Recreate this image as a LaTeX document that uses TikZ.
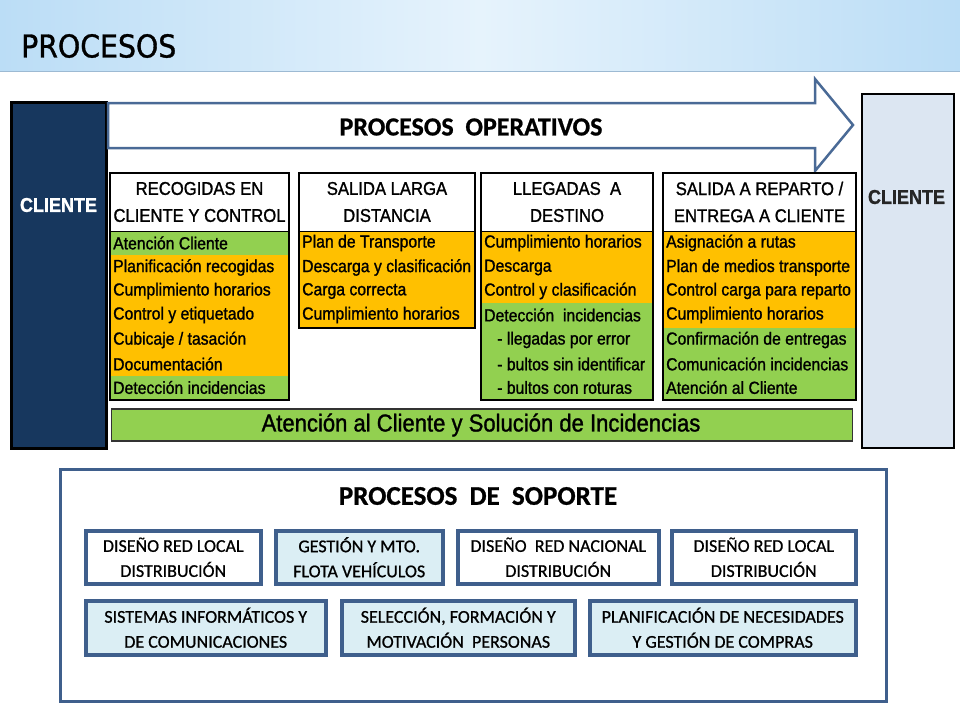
\documentclass[tikz,border=0pt]{standalone}
\usepackage{fontspec}
\setmainfont{Liberation Sans}
\newfontfamily\narrowf[FakeStretch=0.9,FakeBold=1.2]{Liberation Sans}
\newfontfamily\calibf[FakeBold=0.8]{Carlito}
\newfontfamily\titlef[FakeStretch=0.9,FakeBold=1]{DejaVu Sans}
\definecolor{navy}{HTML}{17375E}
\definecolor{orng}{HTML}{FFC000}
\definecolor{grn}{HTML}{92D050}
\definecolor{lightcli}{HTML}{DCE6F2}
\definecolor{arrowblue}{HTML}{4A6A96}
\definecolor{supblue}{HTML}{3F5F8C}
\definecolor{supfill}{HTML}{DBEEF4}
\definecolor{hdrA}{HTML}{BBDDF6}
\definecolor{hdrB}{HTML}{E6F3FC}
\definecolor{hdrline}{HTML}{9DBAD3}
\tikzset{
  item/.style={anchor=west, inner sep=0pt, font=\narrowf\fontsize{17.5}{18}\selectfont, text=black},
  colhead/.style={align=center, inner sep=0pt, font=\narrowf\fontsize{18.5}{27}\selectfont, text=black},
  colframe/.style={draw=black, line width=2pt},
  supbox/.style={draw=supblue, line width=3.5pt, align=center, inner sep=0pt,
    font=\calibf\fontsize{18}{25}\selectfont, anchor=north west},
}
\begin{document}
\begin{tikzpicture}[x=1pt,y=-1pt]
\useasboundingbox (0,0) rectangle (960,720);
\fill[white] (0,0) rectangle (960,720);
% header band
\shade[left color=hdrA, right color=hdrA, middle color=hdrB] (0,0) rectangle (960,71);
\draw[hdrline, line width=1pt] (0,71.5) -- (960,71.5);
\node[anchor=west, inner sep=0pt, font=\titlef\fontsize{31.5}{32}\selectfont] (title) at (21,46) {PROCESOS};

% left client
\node[draw=black, line width=2.5pt, fill=navy, minimum width=95pt, minimum height=346pt, anchor=north west, inner sep=0pt] (cliL) at (10,101) {};
\node[text=white, font=\narrowf\bfseries\fontsize{20}{20}\selectfont] (cliLt) at (58.5,205) {CLIENTE};

% right client
\node[draw=black, line width=2pt, fill=lightcli, minimum width=92pt, minimum height=354pt, anchor=north west, inner sep=0pt] (cliR) at (860.5,93) {};
\node[text=black!85, font=\narrowf\bfseries\fontsize{20}{20}\selectfont] (cliRt) at (906.5,197) {CLIENTE};

% arrow
\draw[arrowblue, line width=2.5pt, fill=white, line join=miter]
  (108,103) -- (815,103) -- (815,79) -- (853,125) -- (815,171) -- (815,148) -- (108,148) -- cycle;
\node[font=\calibf\bfseries\fontsize{26}{26}\selectfont] (opert) at (471,127) {PROCESOS\ \ OPERATIVOS};

% ---------- column 1 ----------
\fill[white] (110,173) rectangle (289,231);
\fill[grn] (110,231) rectangle (289,255);
\fill[orng] (110,255) rectangle (289,376);
\fill[grn] (110,376) rectangle (289,400);
\draw[black, line width=0.8pt] (110,231) -- (289,231);
\draw[colframe] (110,173) rectangle (289,400);
\node[colhead] (h1) at (199.5,202) {RECOGIDAS EN\\CLIENTE Y CONTROL};
\node[item] (c1a) at (113,243) {Atención Cliente};
\node[item] (c1b) at (113,267.5) {Planificación recogidas};
\node[item] (c1c) at (113,291) {Cumplimiento horarios};
\node[item] (c1d) at (113,315) {Control y etiquetado};
\node[item] (c1e) at (113,340) {Cubicaje / tasación};
\node[item] (c1f) at (113,364) {Documentación};
\node[item] (c1g) at (113,387.5) {Detección incidencias};

% ---------- column 2 ----------
\fill[white] (299,173) rectangle (475,231);
\fill[orng] (299,231) rectangle (475,328);
\draw[black, line width=0.8pt] (299,231) -- (475,231);
\draw[colframe] (299,173) rectangle (475,328);
\node[colhead] (h2) at (387,202) {SALIDA LARGA\\DISTANCIA};
\node[item] (c2a) at (302,243) {Plan de Transporte};
\node[item] (c2b) at (302,267.5) {Descarga y clasificación};
\node[item] (c2c) at (302,291) {Carga correcta};
\node[item] (c2d) at (302,315) {Cumplimiento horarios};

% ---------- column 3 ----------
\fill[white] (481,173) rectangle (653,231);
\fill[orng] (481,231) rectangle (653,303);
\fill[grn] (481,303) rectangle (653,400);
\draw[black, line width=0.8pt] (481,231) -- (653,231);
\draw[colframe] (481,173) rectangle (653,400);
\node[colhead] (h3) at (567,202) {LLEGADAS\ \ A\\DESTINO};
\node[item] (c3a) at (484,243) {Cumplimiento horarios};
\node[item] (c3b) at (484,267.5) {Descarga};
\node[item] (c3c) at (484,291) {Control y clasificación};
\node[item] (c3d) at (484,315) {Detección\ \ incidencias};
\node[item] (c3e) at (497,340) {- llegadas por error};
\node[item] (c3f) at (497,364) {- bultos sin identificar};
\node[item] (c3g) at (497,387.5) {- bultos con roturas};

% ---------- column 4 ----------
\fill[white] (663,173) rectangle (856,231);
\fill[orng] (663,231) rectangle (856,328);
\fill[grn] (663,328) rectangle (856,400);
\draw[black, line width=0.8pt] (663,231) -- (856,231);
\draw[colframe] (663,173) rectangle (856,400);
\node[colhead] (h4) at (759.5,202) {SALIDA A REPARTO /\\ENTREGA A CLIENTE};
\node[item] (c4a) at (666,243) {Asignación a rutas};
\node[item] (c4b) at (666,267.5) {Plan de medios transporte};
\node[item] (c4c) at (666,291) {Control carga para reparto};
\node[item] (c4d) at (666,315) {Cumplimiento horarios};
\node[item] (c4e) at (666,340) {Confirmación de entregas};
\node[item] (c4f) at (666,364) {Comunicación incidencias};
\node[item] (c4g) at (666,387.5) {Atención al Cliente};

% green bar
\node[draw=black!80, line width=1.5pt, fill=grn, minimum width=741pt, minimum height=32pt, anchor=north west, inner sep=0pt] (gbar) at (110.5,408) {};
\node[font=\narrowf\fontsize{24.5}{24}\selectfont] (gbart) at (481,425) {Atención al Cliente y Solución de Incidencias};

% ---------- support ----------
\node[draw=supblue, line width=3pt, fill=white, minimum width=826pt, minimum height=232pt, anchor=north west, inner sep=0pt] (sup) at (59,468) {};
\node[font=\calibf\bfseries\fontsize{27}{27}\selectfont] (supt) at (478,496) {PROCESOS\ \ DE\ \ SOPORTE};

\node[supbox, fill=white, minimum width=175pt, minimum height=53pt] (s1) at (84,529) {DISEÑO RED LOCAL\\DISTRIBUCIÓN};
\node[supbox, fill=supfill, minimum width=167pt, minimum height=53pt] (s2) at (274,529) {GESTIÓN Y MTO.\\FLOTA VEHÍCULOS};
\node[supbox, fill=white, minimum width=201pt, minimum height=53pt] (s3) at (456,529) {DISEÑO\ \ RED NACIONAL\\DISTRIBUCIÓN};
\node[supbox, fill=white, minimum width=184pt, minimum height=53pt] (s4) at (670,529) {DISEÑO RED LOCAL\\DISTRIBUCIÓN};

\node[supbox, fill=supfill, minimum width=240pt, minimum height=54pt] (s5) at (84,599) {SISTEMAS INFORMÁTICOS Y\\DE COMUNICACIONES};
\node[supbox, fill=supfill, minimum width=233pt, minimum height=54pt] (s6) at (340,599) {SELECCIÓN, FORMACIÓN Y\\MOTIVACIÓN\ \ PERSONAS};
\node[supbox, fill=supfill, minimum width=266pt, minimum height=54pt] (s7) at (588,599) {PLANIFICACIÓN DE NECESIDADES\\Y GESTIÓN DE COMPRAS};
\end{tikzpicture}
\end{document}
